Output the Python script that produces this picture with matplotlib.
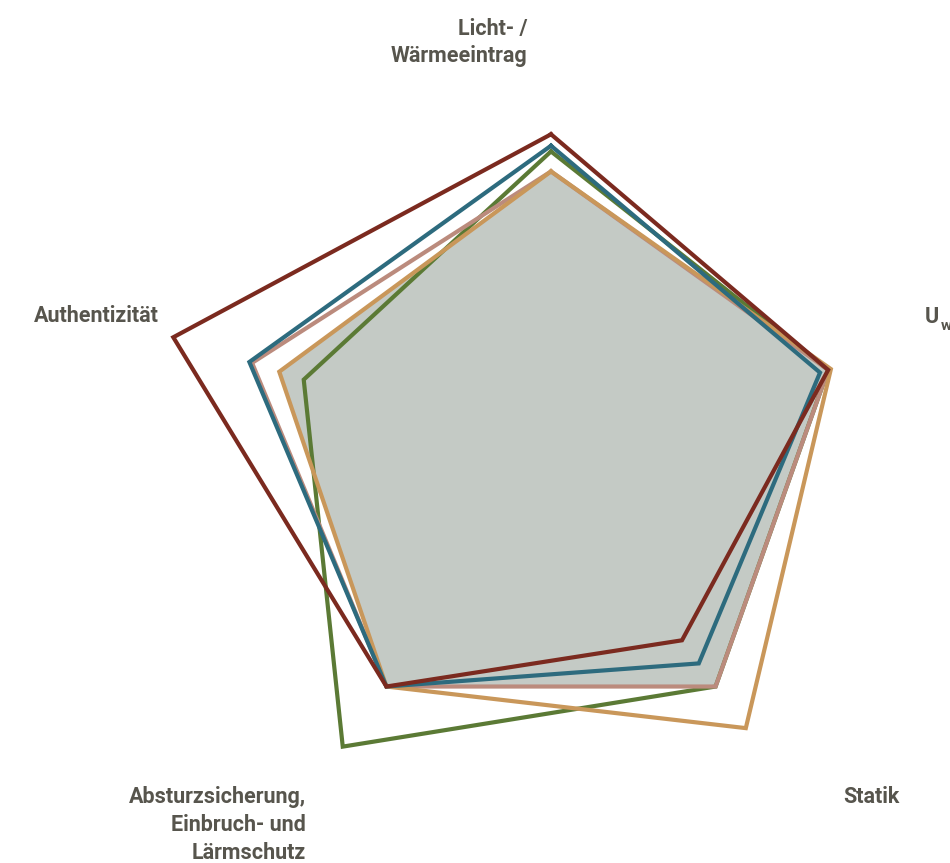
import numpy as np
import matplotlib.pyplot as plt

# axis order clockwise from the top
categories = ['Licht- / Wärmeeintrag', 'Uw', 'Statik',
              'Absturzsicherung, Einbruch- und Lärmschutz', 'Authentizität']

# values (reference polygon ~100)
bestand = [101, 102, 98, 98, 100]
pink_vals = [101, 102, 98, 98, 110]
orange_vals = [101, 103, 116, 98, 100]
green_vals = [108, 102, 98, 124, 91]
teal_vals = [110, 99, 88, 98, 111]
red_vals = [114, 102, 78, 98, 139]

series = [
    (green_vals, '#5b7a35'),
    (pink_vals, '#bb8b7d'),
    (orange_vals, '#c9975a'),
    (teal_vals, '#2d6b7e'),
    (red_vals, '#7b2a1f'),
]

W, H = 950, 863
fig = plt.figure(figsize=(W / 100, H / 100), dpi=100)

# polar axes centred at (551, 460) px, radius 400 px
cx, cy, rpx = 551, 460, 400
ax = fig.add_axes([(cx - rpx) / W, (H - cy - rpx) / H, 2 * rpx / W, 2 * rpx / H],
                  projection='polar')
ax.set_theta_offset(np.pi / 2)
ax.set_theta_direction(-1)
ax.set_ylim(0, 140)
ax.set_axis_off()

theta = np.linspace(0, 2 * np.pi, len(categories), endpoint=False)
th = np.append(theta, theta[0])


def closed(v):
    return np.append(v, v[0])


ax.fill(th, closed(bestand), color='#c4cac5', lw=0, zorder=1)
for vals, col in series:
    ax.plot(th, closed(vals), color=col, lw=3, solid_joinstyle='miter',
            clip_on=False, zorder=2)

# point labels
tc = '#57554d'
fs = 15.5


def label(x, y, s, ha):
    fig.text(x / W, 1 - y / H, s, ha=ha, va='baseline', fontsize=fs,
             fontweight='bold', color=tc, family=['Roboto', 'DejaVu Sans'])


label(527, 35, 'Licht- /', 'right')
label(527, 62, 'Wärmeeintrag', 'right')
label(159, 322, 'Authentizität', 'right')
label(925, 323, 'U', 'left')
fig.text(941 / W, 1 - 330 / H, 'w', ha='left', va='baseline', fontsize=11,
         fontweight='bold', color=tc, family=['Roboto', 'DejaVu Sans'])
label(843, 803, 'Statik', 'left')
label(306, 803, 'Absturzsicherung,', 'right')
label(306, 831, 'Einbruch- und', 'right')
label(306, 859, 'Lärmschutz', 'right')

fig.savefig('out.png', dpi=100, facecolor='white')
